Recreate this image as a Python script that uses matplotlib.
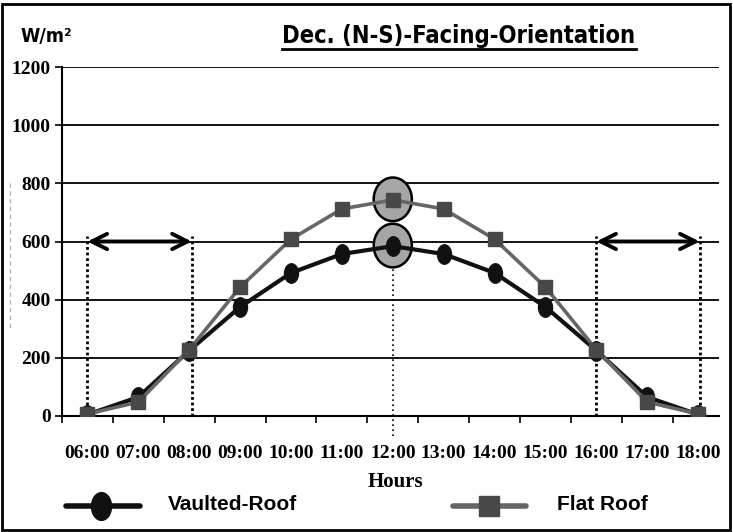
import numpy as np
import matplotlib
matplotlib.use("Agg")
import matplotlib.pyplot as plt
from matplotlib.patches import Ellipse, Rectangle
from matplotlib.path import Path
from matplotlib.transforms import Affine2D
from matplotlib.lines import Line2D

hours = ["06:00", "07:00", "08:00", "09:00", "10:00", "11:00", "12:00",
         "13:00", "14:00", "15:00", "16:00", "17:00", "18:00"]
vaulted = [5, 65, 225, 375, 492, 557, 584, 557, 492, 375, 225, 65, 5]
flat = [7, 48, 228, 443, 608, 712, 743, 712, 608, 443, 228, 48, 7]
y_ticks = [0, 200, 400, 600, 800, 1000, 1200]

serif = ["Liberation Serif", "DejaVu Serif"]
sans = ["Liberation Sans", "DejaVu Sans"]

# tall ellipse marker for the vaulted-roof series
oval = Path.unit_circle().transformed(Affine2D().scale(0.72, 1.0))

fig = plt.figure(figsize=(7.33, 5.32), dpi=100)
ax = fig.add_axes([62 / 733, 1 - 416 / 532, (719 - 62) / 733, (416 - 67) / 532])

x = np.arange(len(hours))

# highlight ellipses at noon
for val in (vaulted[6], flat[6]):
    ax.add_patch(Ellipse((6, val + 2), 0.75, 150, facecolor="#a6a6a6",
                         edgecolor="black", lw=1.8, zorder=3))

ax.plot(x, vaulted, color="#111111", lw=3, marker=oval, ms=14,
        mfc="#111111", mec="#111111", zorder=4)
ax.plot(x, flat, color="#666666", lw=2.6, marker="s", ms=10,
        mfc="#484848", mec="#484848", zorder=5)

# dotted guide lines
for xv in (0, 2.05, 10, 12.03):
    ax.plot([xv, xv], [0, 620], color="black", lw=2, ls=(0, (1, 1)), zorder=2)
ax.plot([6, 6], [-70, 770], color="black", lw=1.2, ls=(0, (1, 2)),
        zorder=2, clip_on=False)

# double arrows at 600
for x0, x1 in ((0, 2.05), (10, 12.03)):
    ax.annotate("", xy=(x0, 600), xytext=(x1, 600),
                arrowprops=dict(arrowstyle="<->,head_length=1.1,head_width=0.55",
                                lw=2.8, color="black", shrinkA=0, shrinkB=0),
                zorder=6)

ax.set_xlim(-0.49, 12.41)
ax.set_ylim(0, 1200)
ax.set_yticks(y_ticks)
ax.set_yticklabels([str(v) for v in y_ticks], fontfamily=serif,
                   fontweight="bold", fontsize=14)
ax.set_xticks(x)
ax.set_xticklabels(hours, fontfamily=serif, fontweight="bold", fontsize=14)
ax.set_xticks(np.arange(-0.5, 12.0, 1.0), minor=True)
ax.tick_params(axis="x", which="major", length=0, pad=21)
ax.tick_params(axis="x", which="minor", length=5, width=1.2, direction="out")
ax.tick_params(axis="y", length=5, width=1.2, direction="out", pad=3)

ax.grid(axis="y", color="black", lw=1.3)
ax.set_axisbelow(True)
for side in ("top", "right"):
    ax.spines[side].set_visible(False)
for side in ("left", "bottom"):
    ax.spines[side].set_linewidth(1.5)

# titles
title = fig.text(459 / 733, 1 - 36 / 532, "Dec. (N-S)-Facing-Orientation",
                 ha="center", va="center", fontsize=17, fontweight="bold",
                 fontfamily="DejaVu Sans", fontstretch="condensed")
fig.text(20 / 733, 1 - 37 / 532, "W/m²", ha="left", va="center",
         fontsize=14, fontweight="bold", fontfamily="DejaVu Sans",
         fontstretch="condensed")
fig.text(395 / 733, 1 - 482 / 532, "Hours", ha="center", va="center",
         fontsize=15, fontweight="bold", fontfamily=serif)

# underline under the title, from its rendered extent
fig.canvas.draw()
bb = title.get_window_extent().transformed(fig.transFigure.inverted())
fig.add_artist(Line2D([bb.x0, bb.x1], [bb.y0 - 0.002, bb.y0 - 0.002],
                      color="black", lw=2))

# legend drawn by hand
fig.add_artist(Line2D([66 / 733, 140 / 733], [1 - 506 / 532] * 2,
                      color="#111111", lw=4, solid_capstyle="round"))
fig.add_artist(Line2D([101 / 733], [1 - 506 / 532], marker=oval, ms=20,
                      mfc="#111111", mec="#111111", ls="none"))
fig.text(168 / 733, 1 - 505 / 532, "Vaulted-Roof", ha="left", va="center",
         fontsize=15, fontweight="bold", fontfamily=sans)
fig.add_artist(Line2D([453 / 733, 526 / 733], [1 - 506 / 532] * 2,
                      color="#666666", lw=4, solid_capstyle="round"))
fig.add_artist(Line2D([489 / 733], [1 - 506 / 532], marker="s", ms=14,
                      mfc="#484848", mec="#484848", ls="none"))
fig.text(557 / 733, 1 - 505 / 532, "Flat Roof", ha="left", va="center",
         fontsize=15, fontweight="bold", fontfamily=sans)

# faint artefact dashed line at left
fig.add_artist(Line2D([10 / 733] * 2, [1 - 183 / 532, 1 - 330 / 532],
                      color="#aaaaaa", lw=0.8, ls=(0, (4, 3))))

# outer frame
fig.add_artist(Rectangle((2 / 733, 2 / 532), 728 / 733, 526 / 532,
                         transform=fig.transFigure, fill=False,
                         edgecolor="black", lw=2))

fig.savefig("out.png", dpi=100)
